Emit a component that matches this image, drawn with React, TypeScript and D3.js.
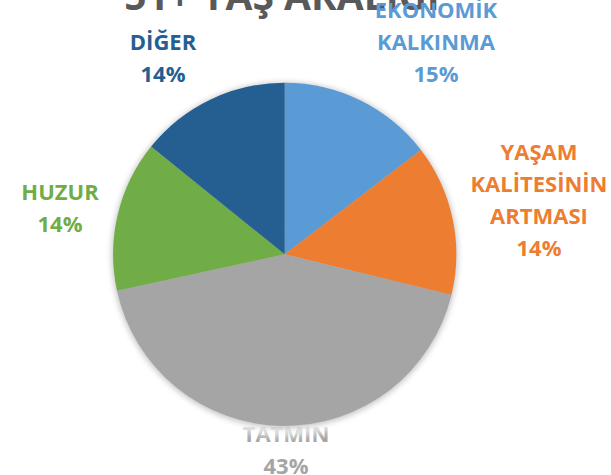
import React from "react";
import * as d3 from "d3";

const categories = ["EKONOMİK\nKALKINMA", "YAŞAM\nKALİTESİNİN\nARTMASI", "TATMİN", "HUZUR", "DİĞER"];
const values = [14.6, 14.2, 42.8, 14.2, 14.2];
const colors = ["#5B9BD5", "#ED7D31", "#A5A5A5", "#70AD47", "#255E91"];
const labelAnchors: [number, number][] = [
  [436, 18],
  [539, 160],
  [286, 442],
  [60, 200],
  [163, 50],
];
const title = "51+ YAŞ ARALIĞI";

const W = 611;
const H = 475;
const CX = 284.7;
const CY = 254.3;
const R = 171.6;
const LINE = 32;
const FONT = "'Open Sans', 'Liberation Sans', sans-serif";

export default function App() {
  const total = d3.sum(values);
  const pie = d3.pie<number>().sort(null).value((d) => d)(values);
  const arc = d3.arc<d3.PieArcDatum<number>>().innerRadius(0).outerRadius(R);
  const fmt = (v: number) => `${Math.round((v / total) * 100)}%`;

  return (
    <svg
      width={W}
      height={H}
      style={{ position: "absolute", left: 0, top: 0, display: "block", background: "#fff" }}
    >
      <defs>
        <filter id="blurW" x="-20%" y="-20%" width="140%" height="140%">
          <feGaussianBlur stdDeviation="4" />
        </filter>
        <filter id="blurG" x="-20%" y="-20%" width="140%" height="140%">
          <feGaussianBlur stdDeviation="3" />
        </filter>
      </defs>
      <text
        x={282}
        y={10}
        textAnchor="middle"
        fontFamily={FONT}
        fontWeight={700}
        fontSize={39}
        fill="#595959"
      >
        {title}
      </text>
      {categories.map((c, i) => {
        const lines = [...c.split("\n"), fmt(values[i])];
        const [x, y] = labelAnchors[i];
        return (
          <text
            key={i}
            x={x}
            y={y}
            textAnchor="middle"
            fontFamily={FONT}
            fontWeight={700}
            fontSize={22}
            fill={colors[i]}
          >
            {lines.map((l, j) => (
              <tspan key={j} x={x} dy={j === 0 ? 0 : LINE}>
                {l}
              </tspan>
            ))}
          </text>
        );
      })}
      <circle cx={CX} cy={CY + 4} r={R + 6} fill="#fff" opacity={0.85} filter="url(#blurW)" />
      <circle cx={CX} cy={CY + 1} r={R + 1} fill="#000" opacity={0.25} filter="url(#blurG)" />
      <g transform={`translate(${CX},${CY})`}>
        {pie.map((d, i) => (
          <path key={i} d={arc(d) || ""} fill={colors[i]} />
        ))}
      </g>
    </svg>
  );
}
